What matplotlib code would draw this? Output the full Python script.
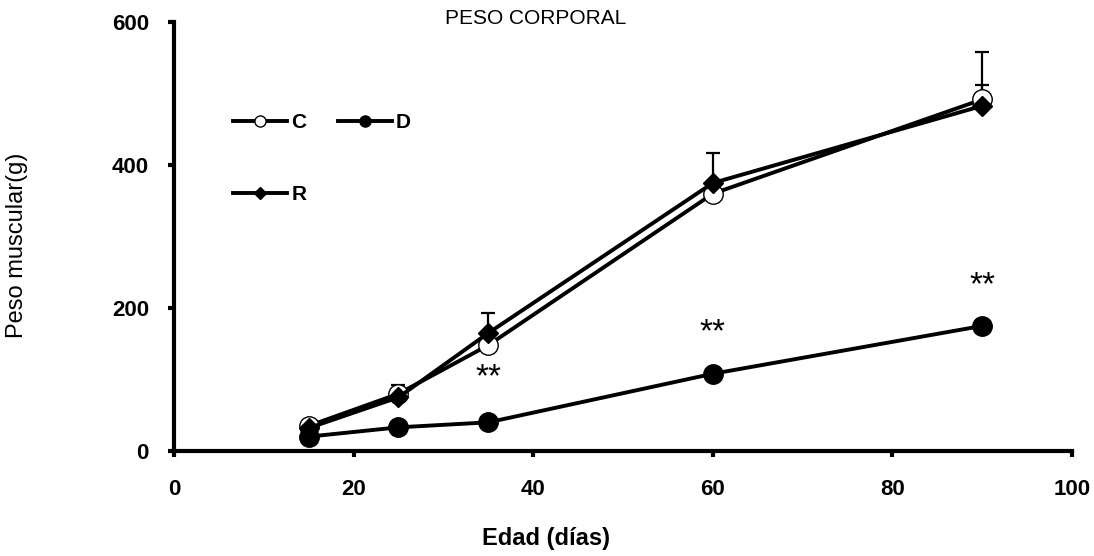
import matplotlib.pyplot as plt
from matplotlib.lines import Line2D

plt.rcParams['font.family'] = ['Liberation Sans', 'DejaVu Sans']

# === Data ===
edad = [15, 25, 35, 60, 90]
peso_c = [35, 80, 148, 360, 492]
peso_d = [20, 33, 40, 108, 175]
peso_r = [32, 75, 165, 375, 483]

# upper error bars only
err_c = [0, 12, 0, 0, 66]
err_r = [0, 10, 28, 42, 29]

# significance marks (**)
sig_x = [35, 60, 90]
sig_y = [102, 165, 231]

fig = plt.figure(figsize=(10.94, 5.56), dpi=100)
ax = fig.add_axes([0.159, 0.189, 0.821, 0.771])

lw = 2.8
for vals, errs in [(peso_c, err_c), (peso_r, err_r)]:
    ax.errorbar(edad, vals, yerr=[[0] * len(errs), errs], fmt='none', ecolor='black',
                elinewidth=1.6, capsize=5, capthick=1.6, zorder=2)

ax.plot(edad, peso_c, color='black', lw=lw, marker='o', markersize=14,
        markerfacecolor='white', markeredgecolor='black', markeredgewidth=1.0, zorder=3)
ax.plot(edad, peso_d, color='black', lw=lw, marker='o', markersize=14,
        markerfacecolor='black', zorder=3)
ax.plot(edad, peso_r, color='black', lw=lw, marker='D', markersize=10,
        markerfacecolor='black', zorder=4)

for x, y in zip(sig_x, sig_y):
    ax.text(x, y, '**', ha='center', va='center', fontsize=24)

ax.set_xlim(0, 100)
ax.set_ylim(0, 600)
ax.set_xticks([0, 20, 40, 60, 80, 100])
ax.set_yticks([0, 200, 400, 600])

for side in ['top', 'right']:
    ax.spines[side].set_visible(False)
for side in ['left', 'bottom']:
    ax.spines[side].set_linewidth(3)
ax.tick_params(axis='both', direction='out', length=4, width=3, labelsize=16)
ax.tick_params(axis='x', pad=16)
ax.tick_params(axis='y', pad=14)
for lab in ax.get_xticklabels() + ax.get_yticklabels():
    lab.set_fontweight('bold')

ax.set_xlabel('Edad (días)', fontsize=17, fontweight='bold')
ax.xaxis.set_label_coords(0.414, -0.178)
ax.set_ylabel('Peso muscular(g)', fontsize=17)
ax.yaxis.set_label_coords(-0.163, 0.48)
fig.text(0.490, 0.966, 'PESO CORPORAL', ha='center', va='center', fontsize=15)

handles = [
    Line2D([], [], color='black', lw=lw, marker='o', markersize=8,
           markerfacecolor='white', markeredgecolor='black', markeredgewidth=1.0),
    Line2D([], [], color='black', lw=lw, marker='D', markersize=6, markerfacecolor='black'),
    Line2D([], [], color='black', lw=lw, marker='o', markersize=8, markerfacecolor='black'),
]
leg = ax.legend(handles, ['C', 'R', 'D'], ncol=2, loc='upper left',
                bbox_to_anchor=(0.213, 0.797), bbox_transform=fig.transFigure,
                frameon=False, borderpad=0, borderaxespad=0,
                prop={'weight': 'bold', 'size': 15},
                handlelength=2.6, handletextpad=0.2, labelspacing=2.55,
                columnspacing=1.5)

fig.savefig('out.png', dpi=100)
